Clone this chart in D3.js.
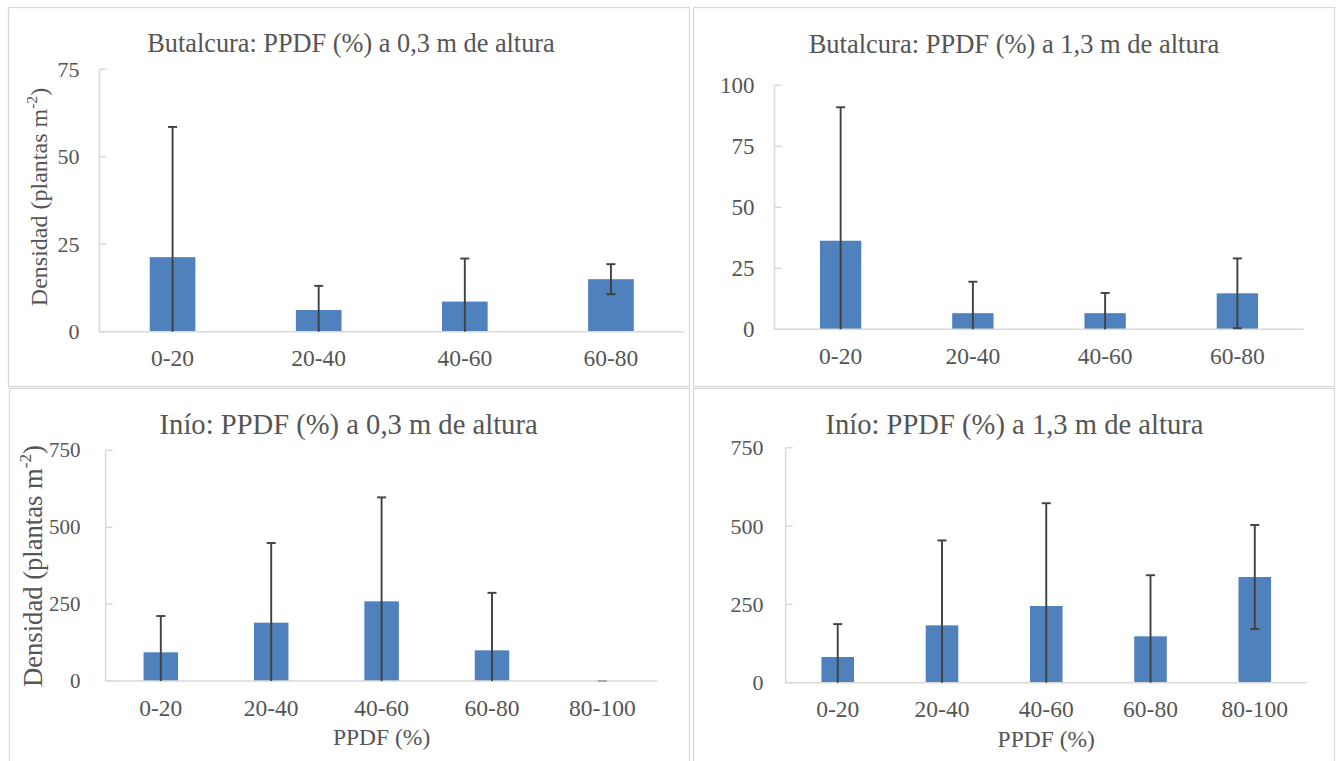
<!DOCTYPE html>
<html>
<head>
<meta charset="utf-8">
<script src="https://cdn.jsdelivr.net/npm/d3@7"></script>
<style>
html,body{margin:0;padding:0;background:#fff;}
</style>
</head>
<body>
<svg id="chart" width="1336" height="761"></svg>
<script>
// ---------- data ----------
const cats4 = ["0-20", "20-40", "40-60", "60-80"];
const cats5 = ["0-20", "20-40", "40-60", "60-80", "80-100"];

const butalcura03Values = [21.3, 6.2, 8.6, 15.0];
const butalcura03Errors = [37.2, 6.9, 12.3, 4.3];

const butalcura13Values = [36.3, 6.6, 6.6, 14.75];
const butalcura13Errors = [54.7, 12.9, 8.3, 14.3];

const inio03Values = [93.3, 189.6, 259, 99.7, 0];
const inio03Errors = [118, 259, 338, 187, 0];

const inio13Values = [82, 183, 244.8, 148, 337.4];
const inio13Errors = [105, 271, 328, 195, 166];

const ticksB03 = [0, 25, 50, 75];
const ticksB13 = [0, 25, 50, 75, 100];
const ticksInio = [0, 250, 500, 750];

const titles = [
  "Butalcura: PPDF (%) a 0,3 m de altura",
  "Butalcura: PPDF (%) a 1,3 m de altura",
  "Inío: PPDF (%) a 0,3 m de altura",
  "Inío: PPDF (%) a 1,3 m de altura"
];
const yLabelMain = "Densidad (plantas m";
const yLabelSup = "-2";
const yLabelEnd = ")";
const xTitle = "PPDF (%)";

// ---------- layout ----------
const FONT = "'Liberation Serif','Times New Roman',serif";
const TEXT = "#555555", AXIS = "#d9d9d9", BAR = "#4f81bd", ERR = "#404040";

const panels = [
  { box:[8,7,681,379], cats:cats4, vals:butalcura03Values, errs:butalcura03Errors, ticks:ticksB03,
    x:[99.5,684], y:[331.7,69.2], title:titles[0], titleX:351, titleY:51.5, titleSize:26.3,
    tickSize:22, tickGap:20, yLabel:{x:46.5, y:197, size:24}, xTitle:null },
  { box:[693,7,641,379], cats:cats4, vals:butalcura13Values, errs:butalcura13Errors, ticks:ticksB13,
    x:[774.5,1303.5], y:[329.3,85.3], title:titles[1], titleX:1014, titleY:52.5, titleSize:26.5,
    tickSize:23, tickGap:20, yLabel:null, xTitle:null },
  { box:[9,388,680,380], cats:cats5, vals:inio03Values, errs:inio03Errors, ticks:ticksInio,
    x:[105.6,657.6], y:[681,450.3], title:titles[2], titleX:348.6, titleY:434.3, titleSize:28.6,
    tickSize:21, tickGap:25, yLabel:{x:41.5, y:566, size:26.6}, xTitle:{y:744.5} },
  { box:[693,388,641,380], cats:cats5, vals:inio13Values, errs:inio13Errors, ticks:ticksInio,
    x:[785.6,1306.9], y:[682.7,447.7], title:titles[3], titleX:1014.4, titleY:434.3, titleSize:28.6,
    tickSize:22, tickGap:22, yLabel:null, xTitle:{y:747} }
];

const svg = d3.select("#chart");

panels.forEach(p => {
  const g = svg.append("g").attr("font-family", FONT);
  g.append("rect")
    .attr("x", p.box[0] + 0.5).attr("y", p.box[1] + 0.5)
    .attr("width", p.box[2]).attr("height", p.box[3])
    .attr("fill", "#fff").attr("stroke", AXIS).attr("stroke-width", 1.3);

  const x = d3.scaleBand().domain(p.cats).range(p.x).paddingInner(0.6875).paddingOuter(0.34375);
  const y = d3.scaleLinear().domain([0, d3.max(p.ticks)]).range(p.y);

  // title
  g.append("text").attr("x", p.titleX).attr("y", p.titleY)
    .attr("text-anchor", "middle").attr("fill", TEXT)
    .attr("font-size", p.titleSize).text(p.title);

  // y axis line + inward ticks
  g.append("line").attr("x1", p.x[0]).attr("x2", p.x[0])
    .attr("y1", y(0)).attr("y2", y(d3.max(p.ticks)))
    .attr("stroke", AXIS).attr("stroke-width", 1.5);
  g.selectAll(".ytick").data(p.ticks).enter().append("line")
    .attr("x1", p.x[0]).attr("x2", p.x[0] + 7)
    .attr("y1", d => y(d)).attr("y2", d => y(d))
    .attr("stroke", AXIS).attr("stroke-width", 1.5);
  g.selectAll(".ylab").data(p.ticks).enter().append("text")
    .attr("x", p.x[0] - p.tickGap).attr("y", d => y(d))
    .attr("dy", "0.34em").attr("text-anchor", "end")
    .attr("fill", TEXT).attr("font-size", p.tickSize)
    .text(d => d);

  // bars
  g.selectAll(".bar").data(p.vals).enter().append("rect")
    .attr("x", (d, i) => x(p.cats[i]))
    .attr("width", x.bandwidth())
    .attr("y", d => y(d))
    .attr("height", d => y(0) - y(d))
    .attr("fill", BAR);

  // x axis line
  g.append("line").attr("x1", p.x[0]).attr("x2", p.x[1])
    .attr("y1", y(0)).attr("y2", y(0))
    .attr("stroke", AXIS).attr("stroke-width", 1.5);

  // error bars
  p.vals.forEach((v, i) => {
    const cx = x(p.cats[i]) + x.bandwidth() / 2;
    const hi = v + p.errs[i];
    const lo = Math.max(0, v - p.errs[i]);
    const eg = g.append("g").attr("stroke", ERR).attr("stroke-width", 1.9);
    if (hi > lo) {
      eg.append("line").attr("x1", cx).attr("x2", cx).attr("y1", y(lo)).attr("y2", y(hi));
    }
    eg.append("line").attr("x1", cx - 4.5).attr("x2", cx + 4.5).attr("y1", y(hi)).attr("y2", y(hi))
      .attr("stroke", p.errs[i] === 0 ? "#a6a6a6" : ERR);
    if (v - p.errs[i] > 0) {
      eg.append("line").attr("x1", cx - 4.5).attr("x2", cx + 4.5).attr("y1", y(lo)).attr("y2", y(lo));
    }
  });

  // x tick labels
  g.selectAll(".xlab").data(p.cats).enter().append("text")
    .attr("x", d => x(d) + x.bandwidth() / 2)
    .attr("y", y(0) + 34.5)
    .attr("text-anchor", "middle").attr("fill", TEXT)
    .attr("font-size", 23.5).text(d => d);

  if (p.xTitle) {
    g.append("text").attr("x", (p.x[0] + p.x[1]) / 2).attr("y", p.xTitle.y)
      .attr("text-anchor", "middle").attr("fill", TEXT)
      .attr("font-size", 23.5).text(xTitle);
  }

  if (p.yLabel) {
    const t = g.append("text")
      .attr("transform", `translate(${p.yLabel.x},${p.yLabel.y}) rotate(-90)`)
      .attr("text-anchor", "middle").attr("fill", TEXT)
      .attr("font-size", p.yLabel.size);
    t.append("tspan").text(yLabelMain);
    t.append("tspan").attr("font-size", p.yLabel.size * 0.65).attr("dy", -p.yLabel.size * 0.4).text(yLabelSup);
    t.append("tspan").attr("dy", p.yLabel.size * 0.4).text(yLabelEnd);
  }
});
</script>
</body>
</html>
